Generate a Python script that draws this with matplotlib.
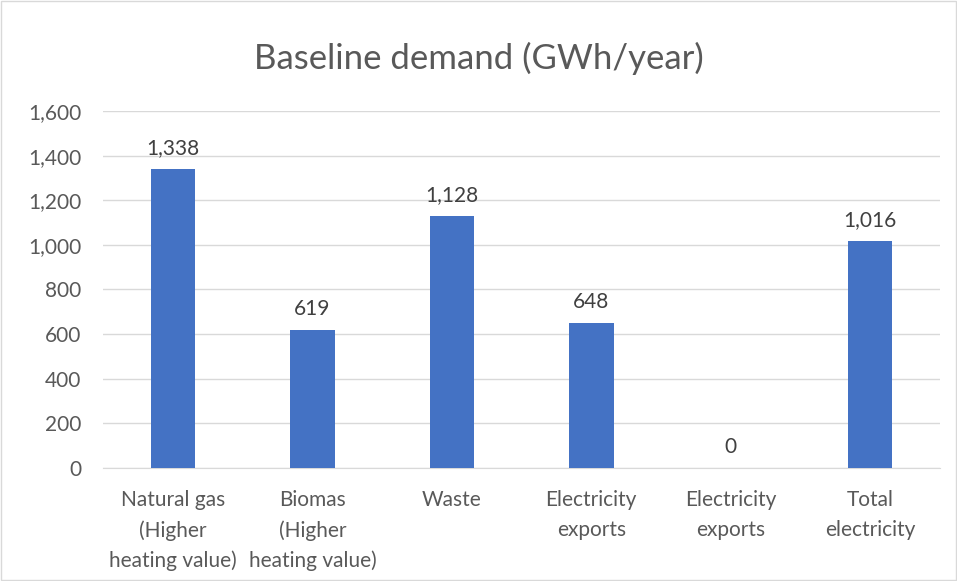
import matplotlib.pyplot as plt
import numpy as np

categories = ["Natural gas\n(Higher\nheating value)", "Biomas\n(Higher\nheating value)", "Waste",
              "Electricity\nexports", "Electricity\nexports", "Total\nelectricity"]
values = [1338, 619, 1128, 648, 0, 1016]
yticks = [0, 200, 400, 600, 800, 1000, 1200, 1400, 1600]

plt.rcParams['font.family'] = ['Lato', 'DejaVu Sans']
text_color = '#595959'

fig = plt.figure(figsize=(9.57, 5.81), dpi=100)
ax = fig.add_axes([0.108, 0.1945, 0.874, 0.6145])

x = np.arange(len(categories))
bars = ax.bar(x, values, width=0.32, color='#4472C4', zorder=3)

for xi, v in zip(x, values):
    ax.text(xi, v + 50, f"{v:,}", ha='center', va='bottom', fontsize=15, color='#404040')

ax.set_xlim(-0.5, len(categories) - 0.5)
ax.set_ylim(0, 1600)
ax.set_yticks(yticks)
ax.set_yticklabels([f"{t:,}" for t in yticks])
ax.set_xticks(x)
ax.set_xticklabels(categories, linespacing=1.6)
ax.tick_params(axis='both', length=0, labelsize=15, colors=text_color)
ax.tick_params(axis='x', pad=16)
ax.tick_params(axis='y', pad=16)
ax.grid(axis='y', color='#D9D9D9', linewidth=1, zorder=0)
for s in ['top', 'right', 'left']:
    ax.spines[s].set_visible(False)
ax.spines['bottom'].set_color('#D9D9D9')

fig.text(0.5, 0.9, "Baseline demand (GWh/year)", ha='center', va='center', fontsize=25, color=text_color)

border = plt.Rectangle((0.001, 0.001), 0.998, 0.998, transform=fig.transFigure, fill=False,
                       edgecolor='#D9D9D9', linewidth=1)
fig.patches.append(border)

fig.savefig('out.png', dpi=100)
